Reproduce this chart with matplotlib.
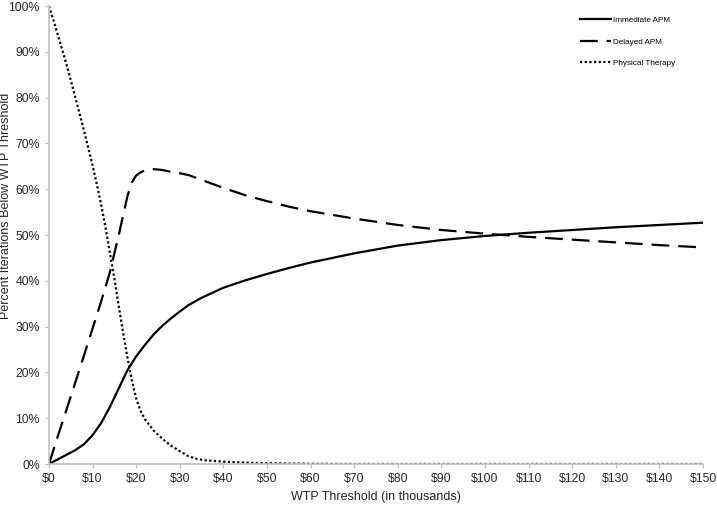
import matplotlib.pyplot as plt
from matplotlib.ticker import FuncFormatter

plt.rcParams["font.family"] = ["Liberation Sans", "DejaVu Sans"]

# WTP thresholds (thousands)
x_imm = [0, 2, 4, 6, 8, 10, 12, 14, 16, 18, 20, 22, 24, 26, 28, 30, 32, 35, 40, 45,
         50, 55, 60, 65, 70, 80, 90, 100, 110, 120, 130, 140, 150]
immediate = [0, 1.0, 2.0, 3.0, 4.3, 6.3, 9.0, 12.5, 16.5, 20.5, 23.5, 26.0, 28.3, 30.2,
             31.8, 33.3, 34.7, 36.3, 38.5, 40.1, 41.5, 42.8, 44.0, 45.0, 46.0, 47.7,
             48.9, 49.8, 50.5, 51.1, 51.7, 52.2, 52.7]

x_del = [0, 2, 4, 6, 8, 10, 12, 14, 16, 18, 19, 20, 21, 22, 24, 26, 28, 30, 32, 34, 36,
         40, 45, 50, 55, 60, 65, 70, 80, 90, 100, 110, 120, 130, 140, 150]
delayed = [0, 6.0, 11.8, 17.7, 23.6, 29.6, 35.6, 42.0, 50.0, 58.5, 61.5, 63.0, 63.7, 64.1,
           64.4, 64.2, 63.8, 63.5, 63.1, 62.4, 61.7, 60.3, 58.7, 57.4, 56.2, 55.2, 54.4,
           53.6, 52.2, 51.1, 50.3, 49.6, 49.0, 48.4, 47.8, 47.3]

x_pt = [0, 1, 2, 3, 4, 5, 6, 7, 8, 9, 10, 11, 12, 13, 14, 15, 16, 17, 18, 19, 20, 21,
        22, 24, 26, 28, 30, 32, 34, 36, 40, 45, 50, 60, 70, 80, 90, 100, 110, 120,
        130, 140, 150]
physical = [100, 97, 93.8, 90.6, 87.3, 83.8, 80.2, 76.6, 72.9, 69.1, 65.2, 61.0, 56.5, 51.5, 46,
            40.5, 34.5, 28.7, 23.2, 18.3, 14.3, 11.6, 9.8, 7.3, 5.5, 4.0, 2.8, 1.7, 1.1, 0.8,
            0.5, 0.3, 0.15, 0.05, 0, 0, 0, 0, 0, 0, 0, 0, 0]

x_ticks = list(range(0, 151, 10))
y_ticks = list(range(0, 101, 10))

fig = plt.figure(figsize=(7.17, 5.07), dpi=100)
ax = fig.add_axes([0.0683, 0.0848, 0.9122, 0.9032])

ax.plot(x_imm, immediate, color="black", lw=1.6, label="Immediate APM")
ax.plot(x_del, delayed, color="black", lw=1.6, linestyle=(0, (8, 4)), label="Delayed APM")
ax.plot(x_pt, physical, color="black", lw=1.6, linestyle=(0, (1, 1.1)), label="Physical Therapy")

ax.set_xlim(0, 150)
ax.set_ylim(0, 100)
ax.set_xticks(x_ticks)
ax.set_yticks(y_ticks)
ax.xaxis.set_major_formatter(FuncFormatter(lambda v, p: f"${v:.0f}"))
ax.yaxis.set_major_formatter(FuncFormatter(lambda v, p: f"{v:.0f}%"))
ax.tick_params(labelsize=8.8, colors="#262626", length=3, direction="out")
ax.tick_params(axis="both", color="#bfbfbf")

for s in ["top", "right"]:
    ax.spines[s].set_visible(False)
for s in ["left", "bottom"]:
    ax.spines[s].set_color("#bfbfbf")
    ax.spines[s].set_linewidth(1.2)

ax.set_xlabel("WTP Threshold (in thousands)", fontsize=9, color="#262626", labelpad=4)
ax.set_ylabel("Percent Iterations Below WTP Threshold", fontsize=9, color="#262626")
ax.yaxis.set_label_coords(-0.0566, 0.563)

ax.legend(loc="upper left", bbox_to_anchor=(0.801, 0.994), frameon=False, fontsize=5.9,
          handlelength=3.7, handletextpad=0.3, labelspacing=1.7)

plt.savefig("out.png", dpi=100)
